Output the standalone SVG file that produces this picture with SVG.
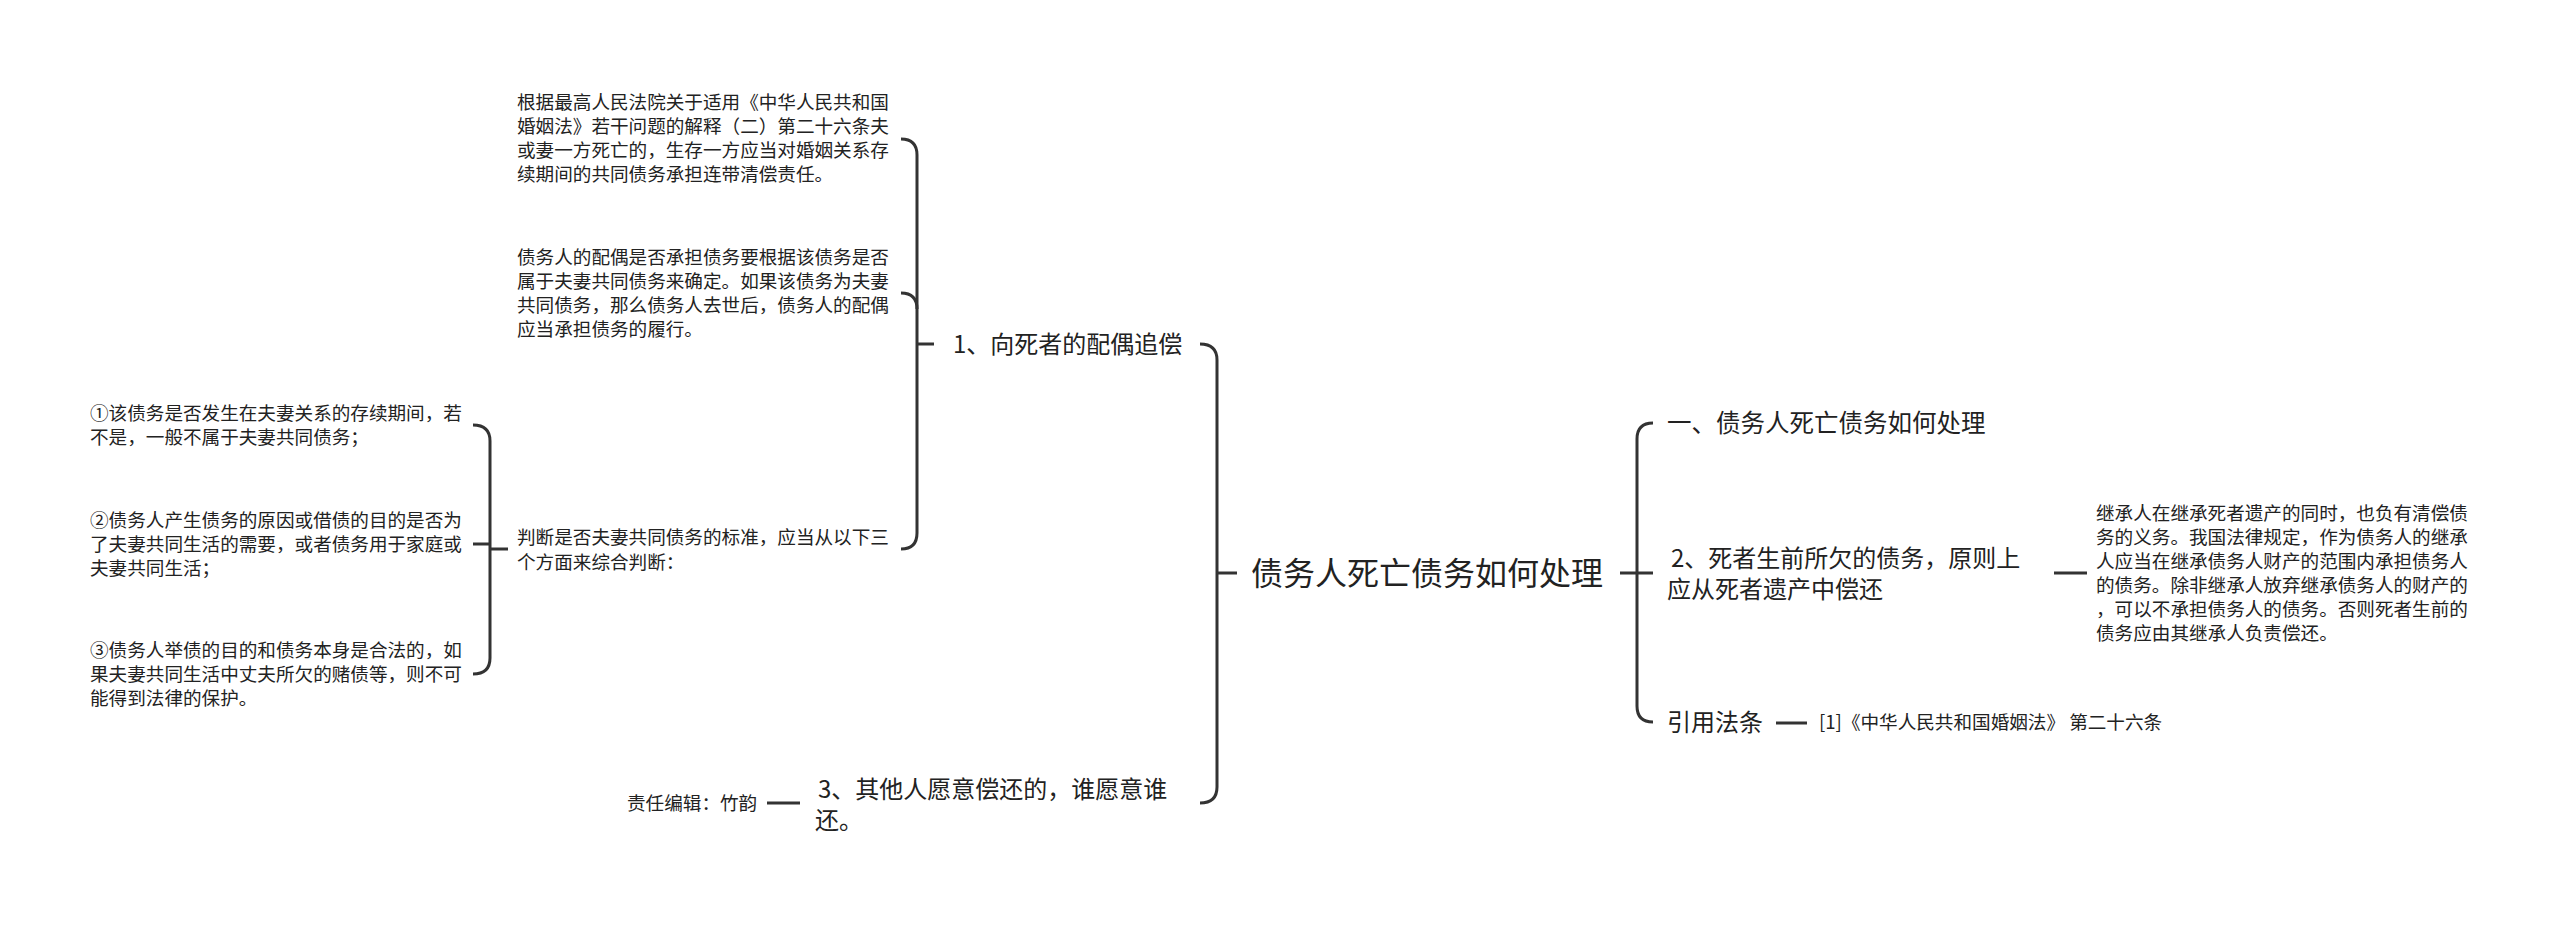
<svg xmlns="http://www.w3.org/2000/svg" width="2560" height="927" viewBox="0 0 2560 927">
<style>
text{font-family:"Noto Sans CJK SC","Noto Sans",sans-serif;fill:#222}
.root{font-size:32px}
.l1{font-size:24px}
.l1b{font-size:24.5px}
.sm{font-size:18.6px}
.conn path{fill:none;stroke:#333;stroke-width:3;stroke-linecap:butt}
</style>
<rect width="2560" height="927" fill="#fff"/>
<g class="conn" id="connectors">
<path d="M1200,344 Q1217,344 1217,360 L1217,787 Q1217,803 1200,803"/>
<path d="M1217,573 L1237,573"/>
<path d="M901,139 Q917,139 917,155 L917,533 Q917,549 901,549"/>
<path d="M901,293 Q917,293 917,309"/>
<path d="M917,344 L934,344"/>
<path d="M473,425 Q490,425 490,441 L490,658 Q490,674 473,674"/>
<path d="M473,544 L490,544"/>
<path d="M490,549 L508,549"/>
<path d="M767,803 L800,803"/>
<path d="M1620,573 L1653,573"/>
<path d="M1653,423 Q1637,423 1637,439 L1637,706 Q1637,722 1653,722"/>
<path d="M2054,573 L2087,573"/>
<path d="M1776,723 L1807,723"/>
</g>
<g id="root"><text class="root" x="1251" y="585">债务人死亡债务如何处理</text></g>
<g id="n1"><text class="l1" x="953" y="353">1、向死者的配偶追偿</text></g>
<g id="n1a"><text class="sm"><tspan x="517" y="109">根据最高人民法院关于适用《中华人民共和国</tspan><tspan x="517" y="133">婚姻法》若干问题的解释（二）第二十六条夫</tspan><tspan x="517" y="157">或妻一方死亡的，生存一方应当对婚姻关系存</tspan><tspan x="517" y="181">续期间的共同债务承担连带清偿责任。</tspan></text></g>
<g id="n1b"><text class="sm"><tspan x="517" y="264">债务人的配偶是否承担债务要根据该债务是否</tspan><tspan x="517" y="288">属于夫妻共同债务来确定。如果该债务为夫妻</tspan><tspan x="517" y="312">共同债务，那么债务人去世后，债务人的配偶</tspan><tspan x="517" y="336">应当承担债务的履行。</tspan></text></g>
<g id="n1c"><text class="sm"><tspan x="517" y="544">判断是否夫妻共同债务的标准，应当从以下三</tspan><tspan x="517" y="569">个方面来综合判断：</tspan></text></g>
<g id="c1"><text class="sm"><tspan x="90" y="420">①该债务是否发生在夫妻关系的存续期间，若</tspan><tspan x="90" y="444">不是，一般不属于夫妻共同债务；</tspan></text></g>
<g id="c2"><text class="sm"><tspan x="90" y="527">②债务人产生债务的原因或借债的目的是否为</tspan><tspan x="90" y="551">了夫妻共同生活的需要，或者债务用于家庭或</tspan><tspan x="90" y="575">夫妻共同生活；</tspan></text></g>
<g id="c3"><text class="sm"><tspan x="90" y="657">③债务人举债的目的和债务本身是合法的，如</tspan><tspan x="90" y="681">果夫妻共同生活中丈夫所欠的赌债等，则不可</tspan><tspan x="90" y="705">能得到法律的保护。</tspan></text></g>
<g id="n3"><text class="l1"><tspan x="818" y="798">3、其他人愿意偿还的，谁愿意谁</tspan><tspan x="815" y="829">还。</tspan></text></g>
<g id="editor"><text class="sm" x="627" y="810">责任编辑：竹韵</text></g>
<g id="r1"><text class="l1b" x="1667" y="432">一、债务人死亡债务如何处理</text></g>
<g id="r2"><text class="l1"><tspan x="1671" y="567">2、死者生前所欠的债务，原则上</tspan><tspan x="1667" y="598">应从死者遗产中偿还</tspan></text></g>
<g id="r2a"><text class="sm"><tspan x="2096" y="520">继承人在继承死者遗产的同时，也负有清偿债</tspan><tspan x="2096" y="544">务的义务。我国法律规定，作为债务人的继承</tspan><tspan x="2096" y="568">人应当在继承债务人财产的范围内承担债务人</tspan><tspan x="2096" y="592">的债务。除非继承人放弃继承债务人的财产的</tspan><tspan x="2096" y="616">，可以不承担债务人的债务。否则死者生前的</tspan><tspan x="2096" y="640">债务应由其继承人负责偿还。</tspan></text></g>
<g id="r3"><text class="l1" x="1667" y="731">引用法条</text></g>
<g id="r3a"><text class="sm" x="1819" y="729">[1]《中华人民共和国婚姻法》 第二十六条</text></g>
</svg>
